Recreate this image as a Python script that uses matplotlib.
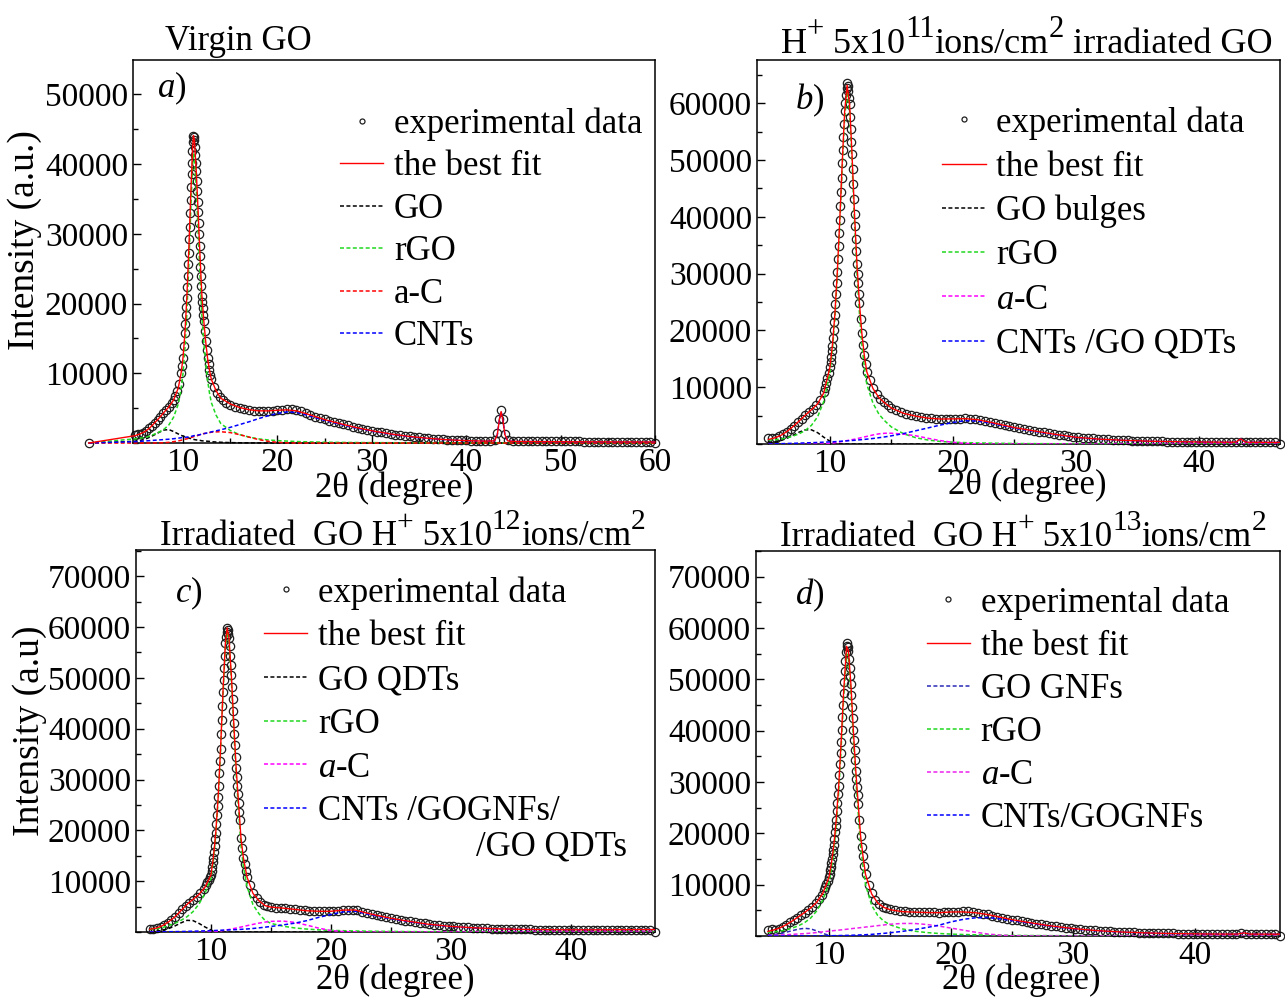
import matplotlib
matplotlib.use('Agg')
import matplotlib.pyplot as plt
from matplotlib.ticker import MultipleLocator, FixedLocator, FuncFormatter
from matplotlib.transforms import offset_copy

plt.rcParams['font.family'] = ['Liberation Serif', 'DejaVu Serif']
plt.rcParams['mathtext.fontset'] = 'custom'
plt.rcParams['mathtext.rm'] = 'Liberation Serif'
plt.rcParams['mathtext.it'] = 'Liberation Serif:italic'
plt.rcParams['mathtext.bf'] = 'Liberation Serif:bold'

# ---------------- Panel a: Virgin GO ----------------
exp_a = [(0, 0), (4.9, 1150), (5.2, 1250), (5.5, 1350), (5.8, 1500), (6.1, 1750), (6.4, 2100), (6.7, 2500),
         (7.0, 2900), (7.3, 3300), (7.6, 3750), (7.9, 4250), (8.2, 4700), (8.5, 5150), (8.8, 5700), (9.0, 6150),
         (9.2, 6800), (9.4, 7500), (9.6, 8500), (9.8, 10000), (9.9, 11000), (10.0, 12200), (10.1, 13900),
         (10.2, 15800), (10.25, 17000), (10.3, 18300), (10.35, 19500), (10.4, 20800), (10.45, 22400),
         (10.5, 24000), (10.55, 25600), (10.6, 27300), (10.65, 29200), (10.7, 31000), (10.75, 33000),
         (10.8, 34900), (10.85, 36700), (10.9, 38500), (10.95, 40200), (11.0, 41900), (11.05, 43100),
         (11.1, 44000), (11.15, 43800), (11.2, 43500), (11.25, 42500), (11.3, 41300), (11.35, 40200),
         (11.4, 39000), (11.45, 37600), (11.5, 36100), (11.55, 34600), (11.6, 33100), (11.65, 31500),
         (11.7, 29900), (11.75, 28300), (11.8, 26800), (11.85, 25300), (11.9, 23900), (11.95, 22500),
         (12.0, 21100), (12.05, 20200), (12.1, 19300), (12.15, 18400), (12.2, 17500), (12.3, 16000),
         (12.4, 14600), (12.5, 13300), (12.6, 12200), (12.7, 11300), (12.8, 10500), (12.9, 9800),
         (13.0, 9150), (13.3, 8000), (13.6, 7200), (13.9, 6650), (14.2, 6200), (14.6, 5800),
         (15.0, 5500), (15.5, 5200), (16.0, 5000), (16.5, 4850), (17.0, 4700), (17.5, 4600), (18.0, 4550),
         (18.5, 4550), (19.0, 4550), (19.5, 4650), (20.0, 4750), (20.5, 4800), (21.0, 4850), (21.5, 4900),
         (22.0, 4800), (22.5, 4550), (23.0, 4250), (23.5, 4000), (24.0, 3800), (24.5, 3600), (25.0, 3400),
         (25.5, 3200), (26.0, 3050), (26.5, 2900), (27.0, 2700), (27.5, 2550), (28.0, 2350), (28.5, 2200),
         (29.0, 2050), (29.5, 1900), (30.0, 1750), (30.5, 1650), (31.0, 1520), (31.5, 1400), (32.0, 1300),
         (32.5, 1200), (33.0, 1100), (33.5, 1020), (34.0, 950), (34.5, 880), (35.0, 800), (35.5, 740),
         (36.0, 680), (36.5, 630), (37.0, 580), (37.5, 540), (38.0, 500), (38.5, 460), (39.0, 430),
         (39.5, 400), (40.0, 380), (40.5, 360), (41.0, 340), (41.5, 320), (42.0, 300), (42.5, 300),
         (43.0, 450), (43.3, 1400), (43.5, 3400), (43.7, 4800), (43.9, 3400), (44.1, 1300), (44.4, 400),
         (45.0, 280), (45.5, 270), (46.0, 265), (46.5, 260), (47.0, 255), (47.5, 250), (48.0, 250),
         (48.5, 245), (49.0, 240), (49.5, 240), (50.0, 235), (50.5, 230), (51.0, 230), (51.5, 225),
         (52.0, 225), (52.5, 220), (53.0, 220), (53.5, 215), (54.0, 215), (54.5, 210), (55.0, 210),
         (55.5, 205), (56.0, 205), (56.5, 200), (57.0, 200), (57.5, 200), (58.0, 195), (58.5, 195),
         (59.0, 190), (59.5, 190), (60.0, 0)]
g_a = [0, 4.9, 5.5, 6, 6.5, 7, 7.5, 8, 8.5, 9,
       9.5, 9.8, 10, 10.2, 10.4, 10.6, 10.8, 11, 11.1, 11.2,
       11.4, 11.6, 11.8, 12, 12.2, 12.4, 12.6, 12.8, 13, 13.5,
       14, 15, 16, 17, 18, 19, 20, 21, 22, 23,
       24, 25, 26, 28, 30, 32, 34, 36, 38, 40,
       42, 43, 43.3, 43.5, 43.7, 43.9, 44.1, 44.4, 45, 50,
       55, 60]
fit_a = [0, 1050, 1330, 1660, 2200, 2910, 3630, 4420, 5180, 6170,
         7900, 10060, 12250, 15770, 20770, 27300, 34850, 41910, 44080, 43510,
         39050, 33170, 26780, 21120, 17500, 14580, 12160, 10460, 9140, 7500,
         6430, 5610, 5090, 4775, 4615, 4610, 4700, 4760, 4620, 4230,
         3800, 3370, 3000, 2330, 1760, 1300, 940, 680, 470, 345,
         270, 310, 1210, 3210, 4510, 3210, 1210, 310, 230, 185,
         165, 150]
go_a = [0, 250, 380, 560, 850, 1200, 1560, 1870, 1930, 1650,
        1300, 1100, 1000, 900, 820, 720, 650, 560, 530, 500,
        450, 420, 380, 320, 300, 280, 260, 240, 190, 150,
        110, 60, 40, 25, 15, 10, 0, 0, 0, 0,
        0, 0, 0, 0, 0, 0, 0, 0, 0, 0,
        0, 0, 0, 0, 0, 0, 0, 0, 0, 0,
        0, 0]
rgo_a = [0, 600, 700, 800, 1000, 1300, 1600, 2000, 2600, 3700,
         5600, 7800, 10000, 13500, 18500, 25000, 32500, 39500, 41600, 41000,
         36500, 30500, 24000, 18200, 14500, 11500, 9000, 7200, 5800, 4000,
         2800, 1800, 1200, 850, 600, 450, 350, 280, 220, 180,
         150, 120, 100, 80, 60, 50, 40, 30, 20, 15,
         10, 10, 10, 10, 10, 10, 10, 10, 10, 5,
         5, 0]
ac_a = [0, 0, 0, 0, 0, 10, 20, 50, 100, 200,
        300, 400, 450, 550, 600, 700, 780, 850, 900, 950,
        1000, 1100, 1200, 1300, 1350, 1400, 1450, 1500, 1550, 1600,
        1620, 1500, 1200, 850, 500, 250, 100, 30, 0, 0,
        0, 0, 0, 0, 0, 0, 0, 0, 0, 0,
        0, 0, 0, 0, 0, 0, 0, 0, 0, 0,
        0, 0]
cnt_a = [0, 200, 250, 300, 350, 400, 450, 500, 550, 620,
         700, 760, 800, 820, 850, 880, 920, 1000, 1050, 1060,
         1100, 1150, 1200, 1300, 1350, 1400, 1450, 1520, 1600, 1750,
         1900, 2250, 2650, 3050, 3500, 3900, 4250, 4450, 4400, 4050,
         3650, 3250, 2900, 2250, 1700, 1250, 900, 650, 450, 330,
         260, 300, 1200, 3200, 4500, 3200, 1200, 300, 220, 180,
         160, 150]

# ---------------- Panel b: 5x10^11 ----------------
exp_b = [(5.0, 1000), (5.3, 1150), (5.6, 1150), (5.9, 1400), (6.2, 1750), (6.5, 2150), (6.8, 2650),
         (7.1, 3250), (7.4, 3850), (7.7, 4450), (8.0, 5100), (8.3, 5650), (8.6, 6200), (8.9, 6850),
         (9.2, 7800), (9.5, 9100), (9.6, 9900), (9.7, 10700), (9.8, 11600), (9.9, 12500), (10.0, 13500),
         (10.05, 14400), (10.1, 15400), (10.15, 16300), (10.2, 17300), (10.25, 18600), (10.3, 20000),
         (10.35, 21400), (10.4, 22800), (10.45, 24700), (10.5, 26500), (10.55, 28400), (10.6, 30300),
         (10.65, 32500), (10.7, 34800), (10.75, 37100), (10.8, 39400), (10.85, 41900), (10.9, 44400),
         (10.95, 46900), (11.0, 49500), (11.05, 51800), (11.1, 54000), (11.15, 56300), (11.2, 58600),
         (11.25, 60000), (11.3, 61500), (11.35, 62700), (11.4, 63500), (11.45, 63000), (11.5, 62200),
         (11.55, 61000), (11.6, 59800), (11.65, 57600), (11.7, 55400), (11.75, 53200), (11.8, 51000),
         (11.85, 48400), (11.9, 45800), (11.95, 43100), (12.0, 40500), (12.05, 38300), (12.1, 36100),
         (12.15, 33900), (12.2, 31700), (12.25, 30000), (12.3, 28300), (12.35, 26500), (12.4, 24800),
         (12.5, 22100), (12.6, 19500), (12.7, 17500), (12.8, 15600), (12.9, 14100), (13.0, 12700),
         (13.25, 11200), (13.5, 9800), (13.8, 8750), (14.1, 7950), (14.4, 7350), (14.7, 6850),
         (15.0, 6350), (15.4, 5950), (15.8, 5600), (16.2, 5300), (16.6, 5100), (17.0, 4900), (17.4, 4750),
         (17.8, 4650), (18.2, 4550), (18.6, 4480), (19.0, 4420), (19.4, 4420), (19.8, 4430), (20.2, 4450),
         (20.6, 4480), (21.0, 4500), (21.4, 4480), (21.8, 4400), (22.2, 4250), (22.6, 4050), (23.0, 3850),
         (23.4, 3650), (23.8, 3480), (24.2, 3300), (24.6, 3100), (25.0, 2920), (25.4, 2780), (25.8, 2640),
         (26.2, 2500), (26.6, 2350), (27.0, 2200), (27.4, 2060), (27.8, 1920), (28.2, 1770), (28.6, 1640),
         (29.0, 1520), (29.4, 1420), (29.8, 1310), (30.2, 1200), (30.6, 1120), (31.0, 1050), (31.4, 980),
         (31.8, 920), (32.2, 860), (32.6, 800), (33.0, 750), (33.4, 710), (33.8, 670), (34.2, 635),
         (34.6, 600), (35.0, 570), (35.4, 545), (35.8, 520), (36.2, 500), (36.6, 480), (37.0, 460),
         (37.4, 445), (37.8, 430), (38.2, 415), (38.6, 405), (39.0, 395), (39.4, 385), (39.8, 375),
         (40.2, 365), (40.6, 355), (41.0, 348), (41.4, 342), (41.8, 336), (42.2, 332), (42.6, 330),
         (43.0, 330), (43.4, 420), (43.8, 340), (44.2, 320), (44.6, 315), (45.0, 310), (45.4, 305),
         (45.8, 300), (46.2, 295), (46.6, 0)]
g_b = [5, 5.5, 6, 6.5, 7, 7.5, 8, 8.5, 9, 9.5,
       10, 10.2, 10.4, 10.6, 10.8, 11, 11.2, 11.4, 11.6, 11.8,
       12, 12.2, 12.4, 12.6, 12.8, 13, 13.5, 14, 14.5, 15,
       16, 17, 18, 19, 20, 21, 22, 23, 24, 25,
       26, 28, 30, 32, 34, 36, 38, 40, 42, 43,
       43.4, 43.8, 45, 46.6]
fit_b = [800, 1080, 1510, 2200, 3080, 4060, 5100, 6040, 7080, 9030,
         13480, 17310, 22740, 30270, 39350, 49460, 58570, 63180, 59790, 50900,
         40510, 31650, 24790, 19430, 15570, 12710, 9780, 8120, 7170, 6350,
         5400, 4900, 4550, 4400, 4430, 4470, 4290, 3860, 3380, 2900,
         2530, 1810, 1190, 850, 645, 500, 415, 362, 330, 328,
         908, 328, 305, 285]
go_b = [100, 300, 600, 1000, 1550, 2100, 2500, 2500, 2000, 1200,
        500, 250, 100, 30, 0, 0, 0, 0, 0, 0,
        0, 0, 0, 0, 0, 0, 0, 0, 0, 0,
        0, 0, 0, 0, 0, 0, 0, 0, 0, 0,
        0, 0, 0, 0, 0, 0, 0, 0, 0, 0,
        0, 0, 0, 0]
rgo_b = [700, 750, 850, 1100, 1400, 1800, 2400, 3300, 4800, 7500,
         12500, 16500, 22000, 29500, 38500, 48500, 57500, 62000, 58500, 49500,
         39000, 30000, 23000, 17500, 13500, 10500, 7200, 5200, 4000, 3000,
         1800, 1100, 700, 450, 330, 250, 200, 160, 130, 100,
         80, 60, 40, 30, 25, 20, 15, 12, 10, 8,
         8, 8, 5, 5]
ac_b = [0, 0, 0, 0, 0, 0, 0, 0, 0, 0,
        100, 160, 220, 290, 370, 450, 530, 610, 690, 770,
        850, 950, 1050, 1150, 1250, 1350, 1600, 1800, 1900, 1900,
        1750, 1450, 1000, 600, 300, 120, 40, 0, 0, 0,
        0, 0, 0, 0, 0, 0, 0, 0, 0, 0,
        0, 0, 0, 0]
cnt_b = [0, 30, 60, 100, 130, 160, 200, 240, 280, 330,
         380, 400, 420, 450, 480, 510, 540, 570, 600, 630,
         660, 700, 740, 780, 820, 860, 980, 1120, 1270, 1450,
         1850, 2350, 2850, 3350, 3800, 4100, 4050, 3700, 3250, 2800,
         2450, 1750, 1150, 820, 620, 480, 400, 350, 320, 320,
         900, 320, 300, 280]

# ---------------- Panel c: 5x10^12 ----------------
exp_c = [(4.9, 550), (5.2, 650), (5.5, 820), (5.8, 1050), (6.1, 1400), (6.4, 1850), (6.7, 2400),
         (7.0, 2980), (7.3, 3700), (7.6, 4450), (7.9, 5200), (8.2, 5800), (8.5, 6400), (8.8, 6950),
         (9.1, 7650), (9.4, 8500), (9.6, 9300), (9.7, 9800), (9.8, 10300), (9.9, 10800), (10.0, 11250),
         (10.05, 12000), (10.1, 12800), (10.15, 13700), (10.2, 14600), (10.25, 15800), (10.3, 17000),
         (10.35, 18300), (10.4, 19500), (10.45, 21200), (10.5, 23000), (10.55, 24800), (10.6, 26500),
         (10.65, 28800), (10.7, 31200), (10.75, 33600), (10.8, 36100), (10.85, 38900), (10.9, 41700),
         (10.95, 44400), (11.0, 47200), (11.05, 49600), (11.1, 52000), (11.15, 54400), (11.2, 56800),
         (11.25, 58000), (11.3, 59000), (11.35, 59800), (11.4, 59400), (11.45, 58700), (11.5, 57900),
         (11.55, 56200), (11.6, 54400), (11.65, 52500), (11.7, 50500), (11.75, 48200), (11.8, 45800),
         (11.85, 43500), (11.9, 41100), (11.95, 38900), (12.0, 36700), (12.05, 34500), (12.1, 32300),
         (12.15, 30500), (12.2, 28800), (12.25, 27100), (12.3, 25400), (12.35, 23700), (12.4, 22000),
         (12.5, 18500), (12.6, 16500), (12.7, 14600), (12.8, 13300), (12.9, 12000), (13.0, 10900),
         (13.25, 9200), (13.5, 7600), (13.8, 6700), (14.1, 6000), (14.4, 5400), (14.7, 5050),
         (15.0, 4900), (15.4, 4800), (15.8, 4720), (16.2, 4650), (16.6, 4550), (17.0, 4450), (17.4, 4350),
         (17.8, 4250), (18.2, 4170), (18.6, 4120), (19.0, 4080), (19.4, 4070), (19.8, 4080), (20.2, 4100),
         (20.6, 4170), (21.0, 4300), (21.4, 4350), (21.8, 4360), (22.2, 4250), (22.6, 4000), (23.0, 3750),
         (23.4, 3500), (23.8, 3300), (24.2, 3100), (24.6, 2900), (25.0, 2720), (25.4, 2550), (25.8, 2380),
         (26.2, 2220), (26.6, 2080), (27.0, 1940), (27.4, 1800), (27.8, 1680), (28.2, 1560), (28.6, 1450),
         (29.0, 1350), (29.4, 1260), (29.8, 1180), (30.2, 1100), (30.6, 1030), (31.0, 960), (31.4, 900),
         (31.8, 850), (32.2, 800), (32.6, 760), (33.0, 720), (33.4, 680), (33.8, 650), (34.2, 620),
         (34.6, 600), (35.0, 580), (35.4, 560), (35.8, 540), (36.2, 520), (36.6, 505), (37.0, 490),
         (37.4, 480), (37.8, 470), (38.2, 460), (38.6, 450), (39.0, 445), (39.4, 440), (39.8, 435),
         (40.2, 432), (40.6, 430), (41.0, 430), (41.4, 430), (41.8, 430), (42.2, 432), (42.6, 435),
         (43.0, 440), (43.4, 442), (43.8, 446), (44.2, 450), (44.6, 455), (45.0, 460), (45.4, 465),
         (45.8, 470), (46.2, 475), (46.6, 480), (47.0, 0)]
g_c = [4.9, 5.5, 6, 6.5, 7, 7.5, 8, 8.5, 9, 9.5,
       10, 10.2, 10.4, 10.6, 10.8, 11, 11.2, 11.35, 11.5, 11.7,
       11.9, 12.1, 12.3, 12.5, 12.7, 13, 13.5, 14, 14.5, 15,
       16, 17, 18, 19, 20, 21, 22, 23, 24, 25,
       26, 28, 30, 32, 34, 36, 38, 40, 42, 44,
       47]
fit_c = [530, 820, 1290, 2060, 2980, 4200, 5430, 6410, 7390, 8830,
         11220, 14570, 19510, 26520, 36080, 47170, 56770, 59845, 57920, 50530,
         41140, 32260, 25380, 18510, 14640, 10850, 7600, 6170, 5200, 4900,
         4700, 4450, 4180, 4080, 4080, 4310, 4340, 3720, 3190, 2715,
         2295, 1570, 1100, 820, 630, 525, 460, 435, 432, 450,
         488]
go_c = [30, 150, 350, 700, 1200, 1800, 2300, 2250, 1700, 1000,
        400, 200, 80, 20, 0, 0, 0, 0, 0, 0,
        0, 0, 0, 0, 0, 0, 0, 0, 0, 0,
        0, 0, 0, 0, 0, 0, 0, 0, 0, 0,
        0, 0, 0, 0, 0, 0, 0, 0, 0, 0,
        0]
rgo_c = [500, 650, 900, 1300, 1700, 2300, 3000, 4000, 5500, 7600,
         10500, 14000, 19000, 26000, 35500, 46500, 56000, 59000, 57000, 49500,
         40000, 31000, 24000, 17000, 13000, 9000, 5400, 3600, 2300, 1700,
         1150, 800, 580, 430, 330, 260, 210, 170, 140, 115,
         95, 70, 50, 40, 30, 25, 20, 15, 12, 10,
         8]
ac_c = [0, 0, 0, 0, 0, 0, 0, 0, 0, 0,
        50, 80, 120, 170, 230, 300, 380, 440, 500, 590,
        680, 780, 880, 980, 1080, 1250, 1500, 1750, 1950, 2100,
        2150, 1900, 1350, 750, 300, 100, 30, 0, 0, 0,
        0, 0, 0, 0, 0, 0, 0, 0, 0, 0,
        0]
cnt_c = [0, 20, 40, 60, 80, 100, 130, 160, 190, 230,
         270, 290, 310, 330, 350, 370, 390, 405, 420, 440,
         460, 480, 500, 530, 560, 600, 700, 820, 950, 1100,
         1400, 1750, 2250, 2900, 3450, 3950, 4100, 3550, 3050, 2600,
         2200, 1500, 1050, 780, 600, 500, 440, 420, 420, 440,
         480]

# ---------------- Panel d: 5x10^13 ----------------
exp_d = [(5.0, 1200), (5.3, 1300), (5.6, 1250), (5.9, 1450), (6.2, 1800), (6.5, 2200), (6.8, 2650),
         (7.1, 3100), (7.4, 3550), (7.7, 4050), (8.0, 4550), (8.3, 5100), (8.6, 5650), (8.9, 6350),
         (9.2, 7200), (9.4, 7900), (9.6, 8900), (9.7, 9500), (9.8, 10100), (9.9, 10800), (10.0, 11500),
         (10.05, 12100), (10.1, 12800), (10.15, 13500), (10.2, 14200), (10.25, 15000), (10.3, 15900),
         (10.35, 16800), (10.4, 17700), (10.45, 18900), (10.5, 20200), (10.55, 21500), (10.6, 22700),
         (10.65, 24300), (10.7, 26000), (10.75, 27600), (10.8, 29300), (10.85, 31400), (10.9, 33500),
         (10.95, 35700), (11.0, 37800), (11.05, 40200), (11.1, 42600), (11.15, 45000), (11.2, 47400),
         (11.25, 49500), (11.3, 51600), (11.35, 53600), (11.4, 55300), (11.45, 56500), (11.5, 57000),
         (11.55, 56300), (11.6, 55500), (11.65, 54000), (11.7, 52300), (11.75, 50700), (11.8, 49100),
         (11.85, 46900), (11.9, 44600), (11.95, 42400), (12.0, 40200), (12.05, 38200), (12.1, 36200),
         (12.15, 34200), (12.2, 32200), (12.25, 30600), (12.3, 29000), (12.35, 27400), (12.4, 25800),
         (12.5, 22600), (12.6, 19400), (12.7, 17400), (12.8, 15500), (12.9, 13700), (13.0, 12100),
         (13.25, 10000), (13.5, 8300), (13.8, 7100), (14.1, 6300), (14.4, 5750), (14.7, 5400),
         (15.0, 5200), (15.4, 5000), (15.8, 4850), (16.2, 4780), (16.6, 4720), (17.0, 4680), (17.4, 4650),
         (17.8, 4620), (18.2, 4600), (18.6, 4590), (19.0, 4580), (19.4, 4600), (19.8, 4650), (20.2, 4700),
         (20.6, 4750), (21.0, 4780), (21.4, 4780), (21.8, 4700), (22.2, 4550), (22.6, 4350), (23.0, 4200),
         (23.4, 4000), (23.8, 3800), (24.2, 3600), (24.6, 3400), (25.0, 3200), (25.4, 3030), (25.8, 2870),
         (26.2, 2700), (26.6, 2550), (27.0, 2400), (27.4, 2250), (27.8, 2120), (28.2, 1990), (28.6, 1860),
         (29.0, 1740), (29.4, 1630), (29.8, 1520), (30.2, 1420), (30.6, 1330), (31.0, 1250), (31.4, 1170),
         (31.8, 1090), (32.2, 1020), (32.6, 960), (33.0, 900), (33.4, 850), (33.8, 800), (34.2, 760),
         (34.6, 720), (35.0, 690), (35.4, 660), (35.8, 630), (36.2, 600), (36.6, 580), (37.0, 560),
         (37.4, 540), (37.8, 520), (38.2, 505), (38.6, 490), (39.0, 475), (39.4, 460), (39.8, 445),
         (40.2, 430), (40.6, 420), (41.0, 410), (41.4, 400), (41.8, 395), (42.2, 390), (42.6, 385),
         (43.0, 390), (43.4, 450), (43.8, 520), (44.2, 420), (44.6, 375), (45.0, 370), (45.4, 365),
         (45.8, 360), (46.2, 355), (46.6, 350), (46.97, 0)]
g_d = [5, 5.5, 6, 6.5, 7, 7.5, 8, 8.5, 9, 9.5,
       10, 10.2, 10.4, 10.6, 10.8, 11, 11.2, 11.45, 11.6, 11.8,
       12, 12.2, 12.4, 12.6, 12.8, 13, 13.5, 14, 14.5, 15,
       16, 17, 18, 19, 20, 21, 22, 23, 24, 25,
       26, 28, 30, 32, 34, 36, 38, 40, 42, 43.5,
       44, 44.5, 47]
fit_d = [900, 1200, 1600, 2210, 2930, 3750, 4570, 5460, 6580, 8340,
         11450, 14120, 17640, 22680, 29240, 37800, 47360, 56445, 55495, 49070,
         40145, 32210, 25780, 19360, 15430, 12010, 8210, 6440, 5580, 5140,
         4750, 4650, 4580, 4550, 4680, 4700, 4540, 4190, 3690, 3190,
         2780, 2030, 1460, 1045, 785, 608, 492, 418, 385, 382,
         612, 380, 358]
gnf_d = [100, 250, 450, 750, 1050, 1350, 1500, 1400, 1000, 500,
         150, 60, 20, 0, 0, 0, 0, 0, 0, 0,
         0, 0, 0, 0, 0, 0, 0, 0, 0, 0,
         0, 0, 0, 0, 0, 0, 0, 0, 0, 0,
         0, 0, 0, 0, 0, 0, 0, 0, 0, 0,
         0, 0, 0]
rgo_d = [700, 800, 950, 1200, 1550, 2000, 2600, 3500, 4900, 7000,
         10300, 13000, 16500, 21500, 28000, 36500, 46000, 55000, 54000, 47500,
         38500, 30500, 24000, 17500, 13500, 10000, 6000, 4000, 2900, 2200,
         1400, 950, 680, 500, 380, 300, 240, 190, 160, 130,
         110, 80, 60, 45, 35, 28, 22, 18, 15, 12,
         12, 10, 8]
ac_d = [100, 150, 200, 260, 330, 400, 470, 560, 680, 820,
        950, 1000, 1050, 1100, 1150, 1200, 1250, 1320, 1360, 1420,
        1480, 1530, 1580, 1640, 1690, 1750, 1880, 2020, 2160, 2300,
        2450, 2450, 2250, 1950, 1550, 1150, 750, 400, 180, 60,
        20, 0, 0, 0, 0, 0, 0, 0, 0, 0,
        0, 0, 0]
cnt_d = [0, 0, 0, 0, 0, 0, 0, 0, 0, 20,
         50, 60, 70, 80, 90, 100, 110, 125, 135, 150,
         165, 180, 200, 220, 240, 260, 330, 420, 520, 640,
         900, 1250, 1650, 2100, 2750, 3250, 3550, 3600, 3350, 3000,
         2650, 1950, 1400, 1000, 750, 580, 470, 400, 370, 370,
         600, 370, 350]

yticks_a = [10000, 20000, 30000, 40000, 50000]
yticks_b = [10000, 20000, 30000, 40000, 50000, 60000]
yticks_cd = [10000, 20000, 30000, 40000, 50000, 60000, 70000]

FS = 24        # tick labels
FL = 25        # legend / titles / axis labels
GREEN = '#1fd81f'
DASH = (0, (2.6, 1.6))

fig = plt.figure(figsize=(12.85, 10.01), dpi=100)
renderer = fig.canvas.get_renderer()


def make_panel(rect, xlim, ylim, yticks, exp, grid, fit, comps, clip=True):
    ax = fig.add_axes(rect)
    ex = [p[0] for p in exp]
    ey = [p[1] for p in exp]
    hs = []
    h, = ax.plot(ex, ey, ls='none', marker='o', ms=6.0, mfc='none', mec='#1e1e1e',
                 mew=0.9, clip_on=False, zorder=2, label='experimental data')
    hs.append(h)
    hf, = ax.plot(grid, fit, color='red', lw=1.0, zorder=5, clip_on=clip, label='the best fit')
    hs.append(hf)
    for vals, col, lab in comps:
        hc, = ax.plot(grid, vals, color=col, lw=1.1, ls=DASH, zorder=3, clip_on=clip, label=lab)
        hs.append(hc)
    ax.set_xlim(*xlim)
    ax.set_ylim(*ylim)
    ax.xaxis.set_major_locator(MultipleLocator(10))
    ax.xaxis.set_minor_locator(MultipleLocator(5))
    ax.yaxis.set_major_locator(FixedLocator(yticks))
    ax.yaxis.set_minor_locator(MultipleLocator(5000))
    ax.yaxis.set_major_formatter(FuncFormatter(lambda v, p: '%d' % v))
    ax.tick_params(which='both', direction='in', top=False, right=False,
                   labelsize=FS, width=1.0, pad=3.5)
    ax.tick_params(which='major', length=6)
    ax.tick_params(which='minor', length=3.5)
    for s in ax.spines.values():
        s.set_linewidth(1.1)
    return ax, hs


def legend(ax, hs, xy, spacing):
    ax.legend(handles=hs, loc='upper left', bbox_to_anchor=xy, frameon=False, fontsize=FL,
              handlelength=1.25, handletextpad=0.3, labelspacing=spacing, borderpad=0,
              borderaxespad=0, markerscale=0.6)


def rich_title(ax, x, y, pieces, size, ha='left'):
    objs = []
    widths = []
    for s, sup in pieces:
        fs = size * 0.85 if sup else size
        t = ax.text(x, y, s, transform=ax.transAxes, fontsize=fs, va='baseline', ha='left')
        w = t.get_window_extent(renderer=renderer).width * 72.0 / fig.dpi
        objs.append((t, sup))
        widths.append(w)
    off = -sum(widths) if ha == 'right' else 0.0
    for (t, sup), w in zip(objs, widths):
        dy = size * 0.45 if sup else 0.0
        t.set_transform(offset_copy(ax.transAxes, fig=fig, x=off, y=dy, units='points'))
        off += w


# Panel a
ax, hs = make_panel([0.1035, 0.5574, 0.4062, 0.3826], (4.7, 60), (0, 54900), yticks_a,
                    exp_a, g_a, fit_a,
                    [(go_a, 'black', 'GO'), (rgo_a, GREEN, 'rGO'),
                     (ac_a, 'red', 'a-C'), (cnt_a, 'blue', 'CNTs')], clip=False)
legend(ax, hs, (0.3966, 0.877), 0.275)
ax.text(0.061, 1.026, 'Virgin GO', transform=ax.transAxes, fontsize=FL, va='baseline', ha='left')
ax.text(0.046, 0.927, r'$\it{a}$)', transform=ax.transAxes, fontsize=FL, va='center', ha='left')
ax.set_xlabel('2θ (degree)', fontsize=FL)
ax.xaxis.set_label_coords(0.5, -0.1175)
ax.xaxis.label.set_va('center')
ax.set_ylabel('Intensity (a.u.)', fontsize=27)
ax.yaxis.set_label_coords(-0.207, 0.53)
ax.yaxis.label.set_va('center')

# Panel b
ax, hs = make_panel([0.5891, 0.5564, 0.4070, 0.3836], (4.07, 46.6), (0, 67600), yticks_b,
                    exp_b, g_b, fit_b,
                    [(go_b, 'black', 'GO bulges'), (rgo_b, GREEN, 'rGO'),
                     (ac_b, '#ff00ff', r'$\it{a}$-C'), (cnt_b, 'blue', 'CNTs /GO QDTs')])
legend(ax, hs, (0.3547, 0.880), 0.32)
rich_title(ax, 0.9866, 1.018, [('H', 0), ('+', 1), (' 5x10', 0), ('11', 1), ('ions/cm', 0),
                                ('2', 1), (' irradiated GO', 0)], 26, ha='right')
ax.text(0.0727, 0.896, r'$\it{b}$)', transform=ax.transAxes, fontsize=FL, va='center', ha='left')
ax.set_xlabel('2θ (degree)', fontsize=FL)
ax.xaxis.set_label_coords(0.516, -0.1068)
ax.xaxis.label.set_va('center')

# Panel c
ax, hs = make_panel([0.1058, 0.0689, 0.4039, 0.3816], (3.75, 47.0), (0, 75150), yticks_cd,
                    exp_c, g_c, fit_c,
                    [(go_c, 'black', 'GO QDTs'), (rgo_c, GREEN, 'rGO'),
                     (ac_c, '#ff00ff', r'$\it{a}$-C'), (cnt_c, 'blue', 'CNTs /GOGNFs/')])
legend(ax, hs, (0.2466, 0.932), 0.31)
ax.text(0.655, 0.2225, '/GO QDTs', transform=ax.transAxes, fontsize=FL, va='center', ha='left')
rich_title(ax, 0.046, 1.013, [('Irradiated  GO H', 0), ('+', 1), (' 5x10', 0), ('12', 1),
                               ('ions/cm', 0), ('2', 1)], FL)
ax.text(0.075, 0.887, r'$\it{c}$)', transform=ax.transAxes, fontsize=FL, va='center', ha='left')
ax.set_xlabel('2θ (degree)', fontsize=FL)
ax.xaxis.set_label_coords(0.5, -0.1257)
ax.xaxis.label.set_va('center')
ax.set_ylabel('Intensity (a.u)', fontsize=27)
ax.yaxis.set_label_coords(-0.204, 0.526)
ax.yaxis.label.set_va('center')

# Panel d
ax, hs = make_panel([0.5883, 0.0649, 0.4078, 0.3846], (4.02, 46.97), (0, 75000), yticks_cd,
                    exp_d, g_d, fit_d,
                    [(gnf_d, '#2a2ab8', 'GO GNFs'), (rgo_d, GREEN, 'rGO'),
                     (ac_d, '#ee22ee', r'$\it{a}$-C'), (cnt_d, 'blue', 'CNTs/GOGNFs')])
legend(ax, hs, (0.326, 0.909), 0.29)
rich_title(ax, 0.046, 1.013, [('Irradiated  GO H', 0), ('+', 1), (' 5x10', 0), ('13', 1),
                               ('ions/cm', 0), ('2', 1)], FL)
ax.text(0.0744, 0.886, r'$\it{d}$)', transform=ax.transAxes, fontsize=FL, va='center', ha='left')
ax.set_xlabel('2θ (degree)', fontsize=FL)
ax.xaxis.set_label_coords(0.506, -0.1143)
ax.xaxis.label.set_va('center')

fig.savefig('out.png', dpi=100)
